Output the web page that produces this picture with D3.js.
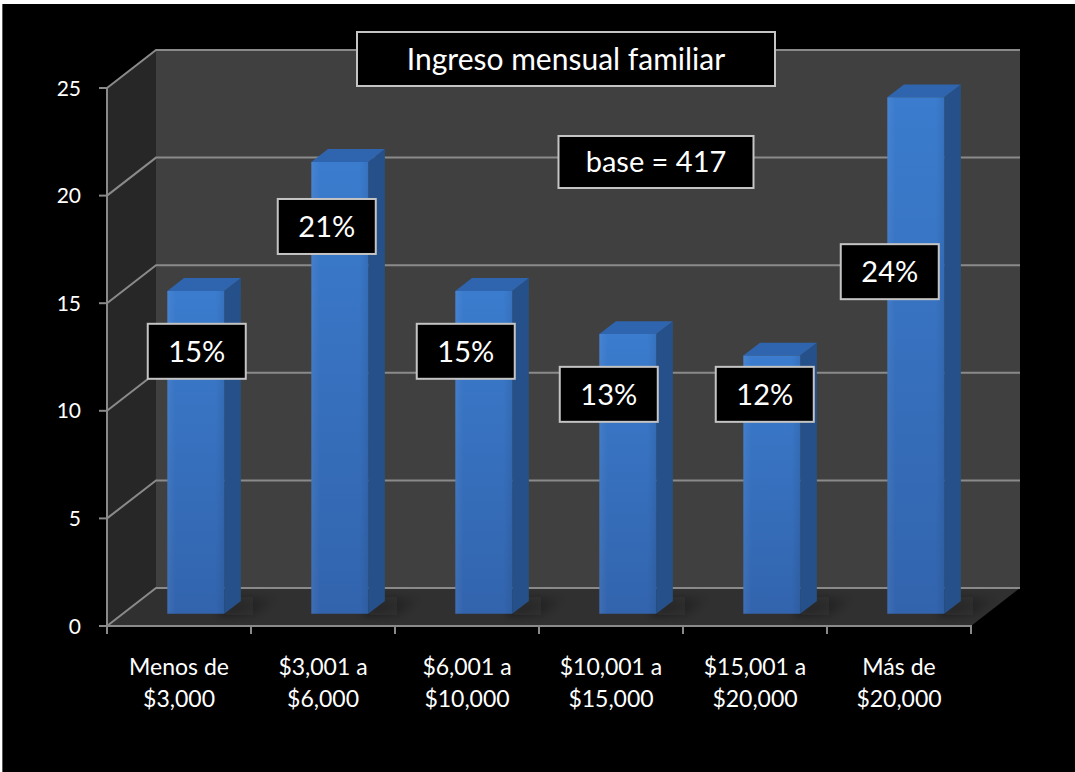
<!DOCTYPE html>
<html>
<head>
<meta charset="utf-8">
<script src="https://cdn.jsdelivr.net/npm/d3@7"></script>
<style>
  html, body { margin: 0; padding: 0; background: #ffffff; }
  svg { display: block; }
  text { font-family: Lato, "Open Sans", sans-serif; fill: #ffffff; }
</style>
</head>
<body>
<svg id="chart" width="1075" height="772"></svg>
<script>
// Household monthly income distribution (percent of respondents)
const categories = [
  ["Menos de", "$3,000"],
  ["$3,001 a", "$6,000"],
  ["$6,001 a", "$10,000"],
  ["$10,001 a", "$15,000"],
  ["$15,001 a", "$20,000"],
  ["Más de", "$20,000"]
];
const values = [15, 21, 15, 13, 12, 24];
const yTicks = [0, 5, 10, 15, 20, 25];
const titleText = "Ingreso mensual familiar";
const baseText = "base = 417";

// Where each value callout sits: level on the value axis and a sideways nudge (px)
const calloutLevel = [12.2, 18.0, 12.2, 10.2, 10.2, 15.9];
const calloutNudge = [1, -13, -18, -19, -7, -26];

const svg = d3.select("#chart");
const W = 1075, H = 772;

// page frame
svg.append("rect").attr("x", 2).attr("y", 4).attr("width", W - 2).attr("height", H - 4).attr("fill", "#000");
svg.append("line").attr("x1", 2.5).attr("x2", 2.5).attr("y1", 4).attr("y2", H).attr("stroke", "#5a5a5a").attr("stroke-width", 1);

// front plane scales + oblique depth offset
const x = d3.scaleBand().domain(d3.range(categories.length)).range([107, 971]).paddingInner(0).paddingOuter(0);
const y = d3.scaleLinear().domain([0, 25]).range([626, 88]);
const DX = 49, DY = -38;
const P = (px, v, d) => [px + d * DX, y(v) + d * DY];

const defs = svg.append("defs");
const gFront = defs.append("linearGradient").attr("id", "barFront").attr("x1", 0).attr("x2", 0).attr("y1", 0).attr("y2", 1);
gFront.append("stop").attr("offset", 0).attr("stop-color", "#3b7cce");
gFront.append("stop").attr("offset", 1).attr("stop-color", "#3264ad");
const gFrontH = defs.append("linearGradient").attr("id", "barSheen").attr("x1", 0).attr("x2", 1).attr("y1", 0).attr("y2", 0);
gFrontH.append("stop").attr("offset", 0).attr("stop-color", "#ffffff").attr("stop-opacity", 0.06);
gFrontH.append("stop").attr("offset", 0.15).attr("stop-color", "#ffffff").attr("stop-opacity", 0);
gFrontH.append("stop").attr("offset", 0.85).attr("stop-color", "#000000").attr("stop-opacity", 0);
gFrontH.append("stop").attr("offset", 1).attr("stop-color", "#000000").attr("stop-opacity", 0.08);
const gShadow = defs.append("linearGradient").attr("id", "shadowFade").attr("x1", 0).attr("x2", 1).attr("y1", 0).attr("y2", 0);
gShadow.append("stop").attr("offset", 0).attr("stop-color", "#161616").attr("stop-opacity", 0.6);
gShadow.append("stop").attr("offset", 1).attr("stop-color", "#161616").attr("stop-opacity", 0);
defs.append("filter").attr("id", "soft").attr("x", "-50%").attr("y", "-100%").attr("width", "200%").attr("height", "300%")
  .append("feGaussianBlur").attr("stdDeviation", 4);

const poly = pts => pts.map(p => p.join(",")).join(" ");
const x0 = x.range()[0], x1 = x.range()[1];

// walls and floor
svg.append("polygon").attr("points", poly([P(x0, 0, 0), P(x0, 25, 0), P(x0, 25, 1), P(x0, 0, 1)])).attr("fill", "#272727");
svg.append("polygon").attr("points", poly([P(x0, 0, 1), P(x0, 25, 1), P(x1, 25, 1), P(x1, 0, 1)])).attr("fill", "#404040");
svg.append("polygon").attr("points", poly([P(x0, 0, 0), P(x1, 0, 0), P(x1, 0, 1), P(x0, 0, 1)])).attr("fill", "#303030");

// gridlines on back wall and side wall
const grid = svg.append("g").attr("stroke", "#8a8a8a").attr("stroke-width", 2).attr("fill", "none");
yTicks.forEach(t => {
  const a = P(x0, t, 0), b = P(x0, t, 1), c = P(x1, t, 1);
  grid.append("polyline").attr("points", poly([a, b, c]));
});

// bars
const bw = x.bandwidth();
const bx0 = 0.31 * bw, bWidth = 0.395 * bw;
const d0 = 0.32, d1 = 0.66;

const bars = svg.append("g");
values.forEach((v, i) => {
  const L = x(i) + bx0, R = L + bWidth;
  // soft floor shadow cast to the right of the bar
  bars.append("polygon")
    .attr("points", poly([P(R - 6, 0, d0 - 0.04), P(R + 34, 0, d0 - 0.04), P(R + 34, 0, d1 + 0.1), P(R - 6, 0, d1 + 0.1)]))
    .attr("fill", "url(#shadowFade)").attr("filter", "url(#soft)");
  const fBL = P(L, 0, d0), fBR = P(R, 0, d0), fTR = P(R, v, d0), fTL = P(L, v, d0);
  const bTL = P(L, v, d1), bTR = P(R, v, d1), bBR = P(R, 0, d1);
  bars.append("polygon").attr("points", poly([fBR, fTR, bTR, bBR])).attr("fill", "#26508a");
  bars.append("polygon").attr("points", poly([fTL, fTR, bTR, bTL])).attr("fill", "#2f65ae");
  bars.append("polygon").attr("points", poly([fBL, fBR, fTR, fTL])).attr("fill", "url(#barFront)");
  bars.append("polygon").attr("points", poly([fBL, fBR, fTR, fTL])).attr("fill", "url(#barSheen)");
});

// axes on the front plane
const ax = svg.append("g").attr("stroke", "#8a8a8a").attr("stroke-width", 2).attr("fill", "none");
ax.append("line").attr("x1", x0).attr("x2", x0).attr("y1", y(25)).attr("y2", y(0) + 1);
ax.append("line").attr("x1", x0 - 1).attr("x2", x1 + 1).attr("y1", y(0)).attr("y2", y(0));
yTicks.forEach(t => ax.append("line").attr("x1", x0 - 8).attr("x2", x0).attr("y1", y(t)).attr("y2", y(t)));
d3.range(categories.length + 1).forEach(i => {
  const px = i < categories.length ? x(i) : x1;
  ax.append("line").attr("x1", px).attr("x2", px).attr("y1", y(0)).attr("y2", y(0) + 8);
});

// y tick labels
svg.append("g").selectAll("text").data(yTicks).join("text")
  .attr("x", 81).attr("y", d => y(d)).attr("dy", "0.36em")
  .attr("text-anchor", "end").attr("font-size", 21).text(d => d);

// category labels
const cat = svg.append("g").selectAll("text").data(categories).join("text")
  .attr("text-anchor", "middle").attr("font-size", 23)
  .attr("transform", (d, i) => `translate(${x(i) + bw / 2},0)`);
cat.append("tspan").attr("x", 0).attr("y", 675).text(d => d[0]);
cat.append("tspan").attr("x", 0).attr("y", 707).text(d => d[1]);

// boxed text helper
function boxed(cx, cy, w, h, txt, size) {
  const g = svg.append("g");
  g.append("rect").attr("x", cx - w / 2).attr("y", cy - h / 2).attr("width", w).attr("height", h)
    .attr("fill", "#000").attr("stroke", "#c4c4c4").attr("stroke-width", 2);
  g.append("text").attr("x", cx).attr("y", cy).attr("dy", "0.36em")
    .attr("text-anchor", "middle").attr("font-size", size).text(txt);
}

// value callouts
values.forEach((v, i) => {
  const fc = x(i) + bx0 + bWidth / 2 + d0 * DX + calloutNudge[i];
  const cy = y(calloutLevel[i]) + d0 * DY;
  boxed(fc, cy, 98, 55, v + "%", 29);
});

// title and base
boxed(566, 59, 418, 54, titleText, 30);
boxed(656, 162, 195, 52, baseText, 29);
</script>
</body>
</html>
